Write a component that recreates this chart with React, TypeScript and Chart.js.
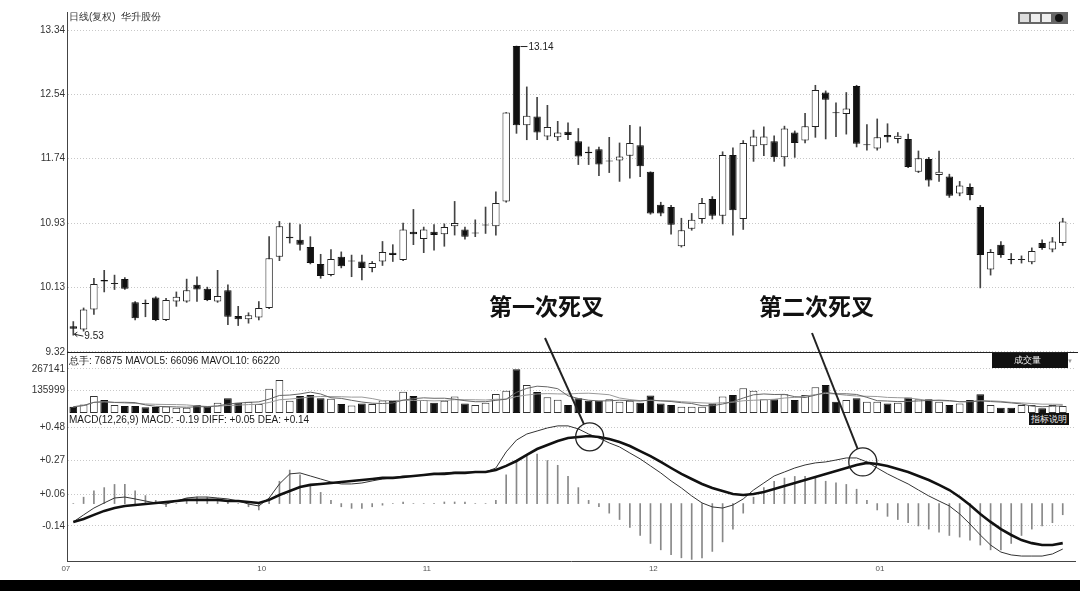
import React, { useEffect, useRef } from "react";
import { Chart, registerables } from "chart.js";
Chart.register(...registerables);

const FONT = '"Liberation Sans", Arial, sans-serif';

// Daily candles (index 0..96)
const opens = [9.64,9.60,9.85,10.22,10.17,10.23,9.94,9.93,10.00,9.72,9.95,9.95,10.16,10.11,9.95,10.09,9.77,9.73,9.75,9.87,10.51,10.74,10.72,10.63,10.42,10.28,10.51,10.45,10.45,10.37,10.45,10.56,10.47,10.82,10.73,10.82,10.79,10.89,10.85,10.80,10.90,10.89,11.20,13.14,12.15,12.26,12.01,12.00,12.07,11.95,11.82,11.85,11.70,11.71,11.77,11.90,11.57,11.16,11.13,10.64,10.86,10.98,11.23,11.02,11.78,10.98,11.89,11.90,11.95,11.75,12.06,11.96,12.13,12.56,12.31,12.29,12.64,11.90,11.86,12.03,11.98,11.98,11.57,11.73,11.53,11.51,11.30,11.38,11.13,10.35,10.66,10.48,10.47,10.44,10.68,10.60,10.68];
const highs = [9.70,9.87,10.24,10.34,10.28,10.25,9.95,9.97,10.01,9.99,10.07,10.23,10.26,10.13,10.34,10.16,9.89,9.81,9.95,10.76,10.95,10.93,10.91,10.76,10.54,10.60,10.57,10.53,10.53,10.45,10.70,10.66,10.93,11.10,10.88,10.91,10.92,11.20,10.88,10.97,11.13,11.32,12.31,13.14,12.63,12.50,12.40,12.20,12.18,12.11,11.88,11.88,12.00,11.93,12.15,12.13,11.57,11.19,11.15,10.99,11.05,11.24,11.26,11.82,11.87,11.96,12.09,12.13,12.02,12.14,12.08,12.30,12.65,12.58,12.43,12.56,12.65,12.16,12.23,12.17,12.06,12.04,11.83,11.75,11.83,11.54,11.45,11.42,11.15,10.60,10.70,10.55,10.52,10.62,10.72,10.75,10.99];
const lows = [9.53,9.58,9.79,10.07,10.10,10.10,9.72,9.76,9.71,9.71,9.89,9.94,9.95,9.96,9.94,9.66,9.65,9.68,9.72,9.86,10.46,10.68,10.59,10.42,10.24,10.27,10.37,10.26,10.22,10.32,10.40,10.45,10.46,10.66,10.56,10.59,10.64,10.78,10.73,10.76,10.80,10.78,11.19,12.05,11.97,11.97,11.97,11.96,11.97,11.66,11.66,11.52,11.56,11.45,11.49,11.51,11.04,11.02,10.79,10.63,10.84,10.93,10.98,10.92,10.78,10.85,11.70,11.77,11.70,11.64,11.75,11.93,12.00,11.98,12.01,12.04,11.88,11.84,11.84,11.94,11.93,11.62,11.56,11.39,11.45,11.25,11.27,11.22,10.12,10.28,10.50,10.42,10.43,10.42,10.60,10.57,10.65];
const closes = [9.61,9.85,10.17,10.20,10.18,10.11,9.74,9.92,9.72,9.97,10.01,10.09,10.10,9.97,10.02,9.76,9.73,9.78,9.87,10.49,10.89,10.76,10.66,10.43,10.27,10.48,10.39,10.45,10.37,10.43,10.57,10.53,10.85,10.79,10.85,10.78,10.88,10.93,10.76,10.81,10.91,11.18,12.31,12.15,12.27,12.06,12.13,12.06,12.03,11.76,11.80,11.66,11.70,11.76,11.93,11.64,11.05,11.05,10.91,10.84,10.97,11.18,11.02,11.78,11.09,11.93,12.01,12.01,11.75,12.11,11.93,12.14,12.59,12.47,12.30,12.36,11.92,11.90,12.00,12.00,12.02,11.63,11.74,11.46,11.57,11.27,11.40,11.28,10.53,10.57,10.53,10.47,10.47,10.58,10.62,10.70,10.95];

// Volume (总手)
const volumes = [38000,52000,103000,79000,48000,42000,42000,34000,36000,40000,32000,32000,48000,40000,62000,89000,62000,68000,55000,146000,199000,74000,103000,109000,89000,86000,54000,45000,58000,54000,75000,72000,129000,103000,79000,62000,74000,99000,58000,48000,62000,115000,135000,264000,169000,127000,95000,80000,48000,89000,74000,74000,83000,68000,74000,62000,105000,58000,48000,38000,38000,38000,58000,99000,109000,149000,135000,83000,83000,113000,79000,109000,155000,169000,68000,79000,89000,68000,68000,58000,62000,93000,83000,83000,68000,48000,58000,79000,113000,48000,32000,32000,48000,48000,28000,48000,42000];

// MACD(12,26,9)
const diffs = [-0.115,-0.071,-0.028,0.004,0.035,0.041,0.029,0.016,0.004,-0.003,0.016,0.035,0.041,0.041,0.035,0.029,0.016,-0.003,-0.015,0.035,0.123,0.186,0.192,0.173,0.154,0.135,0.123,0.123,0.129,0.142,0.154,0.161,0.173,0.173,0.179,0.186,0.192,0.198,0.198,0.198,0.198,0.223,0.324,0.398,0.436,0.455,0.474,0.487,0.487,0.468,0.436,0.411,0.380,0.355,0.317,0.280,0.236,0.192,0.142,0.098,0.048,0.004,-0.021,-0.028,-0.009,0.029,0.085,0.129,0.173,0.198,0.223,0.242,0.255,0.261,0.273,0.286,0.286,0.261,0.223,0.186,0.154,0.123,0.085,0.048,0.016,-0.015,-0.065,-0.128,-0.197,-0.260,-0.304,-0.322,-0.329,-0.329,-0.329,-0.316,-0.285];
const deas = [-0.115,-0.097,-0.071,-0.046,-0.028,-0.015,-0.009,-0.003,0.004,0.010,0.016,0.023,0.023,0.023,0.023,0.016,0.016,0.010,0.004,0.023,0.054,0.079,0.104,0.117,0.123,0.129,0.135,0.142,0.148,0.154,0.161,0.161,0.167,0.173,0.179,0.186,0.186,0.192,0.192,0.198,0.198,0.211,0.236,0.267,0.305,0.342,0.367,0.392,0.411,0.417,0.424,0.417,0.405,0.386,0.361,0.329,0.298,0.261,0.223,0.186,0.154,0.123,0.098,0.079,0.060,0.054,0.060,0.073,0.092,0.110,0.129,0.148,0.167,0.186,0.204,0.223,0.242,0.255,0.248,0.236,0.217,0.198,0.173,0.148,0.117,0.085,0.041,-0.009,-0.065,-0.115,-0.160,-0.197,-0.229,-0.248,-0.260,-0.260,-0.248];
const macdHist = [0.00,0.04,0.08,0.10,0.12,0.12,0.08,0.05,0.02,-0.02,0.00,0.03,0.04,0.04,0.03,0.02,0.00,-0.02,-0.04,0.03,0.14,0.21,0.18,0.12,0.07,0.02,-0.02,-0.03,-0.03,-0.02,-0.01,0.00,0.01,0.00,0.00,0.00,0.01,0.01,0.01,0.00,0.00,0.02,0.18,0.26,0.30,0.31,0.27,0.24,0.17,0.10,0.02,-0.02,-0.06,-0.10,-0.15,-0.20,-0.25,-0.29,-0.32,-0.34,-0.35,-0.34,-0.30,-0.24,-0.16,-0.06,0.04,0.10,0.14,0.16,0.17,0.17,0.16,0.14,0.13,0.12,0.09,0.02,-0.04,-0.08,-0.10,-0.12,-0.14,-0.16,-0.18,-0.20,-0.21,-0.23,-0.26,-0.29,-0.29,-0.25,-0.20,-0.16,-0.14,-0.12,-0.07];

const monthStarts = [0, 19, 35, 57, 79];
const monthLabels = ["07", "10", "11", "12", "01"];
const priceTicks = [9.32, 10.13, 10.93, 11.74, 12.54, 13.34];
const volTicks = [135999, 267141];
const macdTicks = [-0.14, 0.06, 0.27, 0.48];

const crossings = [
  { label: "第一次死叉", index: 50.1, value: 0.418, textLeft: 489, lineFrom: [545, 338] },
  { label: "第二次死叉", index: 76.6, value: 0.261, textLeft: 759, lineFrom: [812, 333] },
];

const movingAvg = (arr: number[], n: number) =>
  arr.map((_, i) => {
    const s = arr.slice(Math.max(0, i - n + 1), i + 1);
    return s.reduce((a, b) => a + b, 0) / s.length;
  });

export default function App() {
  const ref = useRef<HTMLCanvasElement>(null);

  useEffect(() => {
    const idx = opens.map((_, i) => i);
    const up = idx.map((i) => closes[i] >= opens[i]);
    const ma5 = movingAvg(volumes, 5);
    const ma10 = movingAvg(volumes, 10);

    const tickFont = { family: FONT, size: 10 };
    const gridOpts = { color: "#c8c8c8", lineWidth: 1, drawTicks: false };
    const borderOpts = { color: "#444", width: 1, dash: [1, 2] };

    const overlay = {
      id: "overlay",
      afterDatasetsDraw(chart: any) {
        const { ctx, chartArea, scales } = chart;
        const x = scales.x, yP = scales.yPrice, yM = scales.yMacd;
        ctx.save();
        // panel separator
        ctx.strokeStyle = "#222";
        ctx.lineWidth = 1;
        const sy = Math.round(yP.bottom) + 0.5;
        ctx.beginPath();
        ctx.moveTo(chartArea.left, sy);
        ctx.lineTo(chart.width - 2, sy);
        ctx.stroke();

        // high / low markers
        const hiIdx = highs.indexOf(Math.max(...highs));
        const loIdx = lows.indexOf(Math.min(...lows));
        ctx.font = "10px " + FONT;
        ctx.fillStyle = "#222";
        ctx.textAlign = "left";
        ctx.textBaseline = "middle";
        const hx = x.getPixelForValue(hiIdx), hy = yP.getPixelForValue(highs[hiIdx]);
        ctx.beginPath();
        ctx.moveTo(hx + 4, hy + 0.5);
        ctx.lineTo(hx + 11, hy + 0.5);
        ctx.stroke();
        ctx.fillText(highs[hiIdx].toFixed(2), hx + 12, hy + 1);
        const lx = x.getPixelForValue(loIdx), ly = yP.getPixelForValue(lows[loIdx]);
        ctx.beginPath();
        ctx.moveTo(lx + 1, ly - 1);
        ctx.lineTo(lx + 10, ly + 1);
        ctx.moveTo(lx + 1, ly - 1);
        ctx.lineTo(lx + 4, ly - 3);
        ctx.moveTo(lx + 1, ly - 1);
        ctx.lineTo(lx + 4, ly + 1.5);
        ctx.stroke();
        ctx.fillText(lows[loIdx].toFixed(2), lx + 11, ly + 1.5);

        // death-cross annotations
        for (const a of crossings) {
          const cx = x.getPixelForValue(a.index), cy = yM.getPixelForValue(a.value);
          ctx.strokeStyle = "#222";
          ctx.lineWidth = 1.3;
          ctx.beginPath();
          ctx.arc(cx, cy, 14, 0, Math.PI * 2);
          ctx.stroke();
          const [fx, fy] = a.lineFrom;
          const d = Math.hypot(cx - fx, cy - fy);
          const ex = cx - ((cx - fx) / d) * 14, ey = cy - ((cy - fy) / d) * 14;
          ctx.lineWidth = 2;
          ctx.beginPath();
          ctx.moveTo(fx, fy);
          ctx.lineTo(ex, ey);
          ctx.stroke();
        }
        ctx.restore();
      },
    };

    const chart = new Chart(ref.current as HTMLCanvasElement, {
      type: "bar",
      data: {
        datasets: [
          {
            type: "bar",
            label: "wick",
            data: idx.map((i) => ({ x: i, y: [lows[i], highs[i]] })),
            yAxisID: "yPrice",
            backgroundColor: "#444",
            barThickness: 1,
            grouped: false,
            order: 5,
          } as any,
          {
            type: "bar",
            label: "body",
            data: idx.map((i) => ({ x: i, y: [opens[i], closes[i]] })),
            yAxisID: "yPrice",
            backgroundColor: (c: any) => (up[c.dataIndex] ? "#ffffff" : "#111111"),
            borderColor: (c: any) => (up[c.dataIndex] ? "#222222" : "#111111"),
            borderWidth: 1,
            borderSkipped: false,
            categoryPercentage: 1,
            barPercentage: 0.72,
            minBarLength: 1,
            grouped: false,
            order: 4,
          } as any,
          {
            type: "bar",
            label: "volume",
            data: idx.map((i) => ({ x: i, y: volumes[i] })),
            yAxisID: "yVol",
            backgroundColor: (c: any) => (up[c.dataIndex] ? "#ffffff" : "#111111"),
            borderColor: (c: any) => (up[c.dataIndex] ? "#333333" : "#111111"),
            borderWidth: 1,
            borderSkipped: false,
            categoryPercentage: 1,
            barPercentage: 0.75,
            grouped: false,
            order: 4,
          } as any,
          {
            type: "line",
            label: "MAVOL5",
            data: idx.map((i) => ({ x: i, y: ma5[i] })),
            yAxisID: "yVol",
            borderColor: "#666",
            borderWidth: 1,
            pointRadius: 0,
            order: 1,
          } as any,
          {
            type: "line",
            label: "MAVOL10",
            data: idx.map((i) => ({ x: i, y: ma10[i] })),
            yAxisID: "yVol",
            borderColor: "#999",
            borderWidth: 1,
            pointRadius: 0,
            order: 1,
          } as any,
          {
            type: "bar",
            label: "MACD",
            data: idx.map((i) => ({ x: i, y: macdHist[i] })),
            yAxisID: "yMacd",
            backgroundColor: "#888",
            barThickness: 1,
            grouped: false,
            order: 3,
          } as any,
          {
            type: "line",
            label: "DIFF",
            data: idx.map((i) => ({ x: i, y: diffs[i] })),
            yAxisID: "yMacd",
            borderColor: "#333",
            borderWidth: 1,
            pointRadius: 0,
            order: 1,
          } as any,
          {
            type: "line",
            label: "DEA",
            data: idx.map((i) => ({ x: i, y: deas[i] })),
            yAxisID: "yMacd",
            borderColor: "#111",
            borderWidth: 2.6,
            pointRadius: 0,
            order: 0,
          } as any,
        ],
      },
      options: {
        responsive: false,
        animation: false,
        events: [],
        layout: { padding: { top: 12, right: 5, left: 0, bottom: 0 } },
        plugins: { legend: { display: false }, tooltip: { enabled: false } },
        scales: {
          x: {
            type: "linear",
            position: "bottom",
            min: -0.611,
            max: 97.19,
            offset: false,
            grid: { display: false, drawTicks: false },
            border: { display: true, color: "#444", width: 1 },
            ticks: {
              autoSkip: false,
              maxRotation: 0,
              align: "end",
              labelOffset: -3,
              padding: 3,
              font: { family: FONT, size: 8 },
              color: "#555",
              callback: (_v: any, i: number) => monthLabels[i],
            },
            afterBuildTicks: (s: any) => {
              s.ticks = monthStarts.map((v) => ({ value: v }));
            },
            afterFit: (s: any) => {
              s.height = 19;
            },
          },
          yMacd: {
            type: "linear",
            position: "left",
            stack: "panels",
            stackWeight: 147,
            min: -0.36,
            max: 0.5615,
            grid: gridOpts,
            border: borderOpts,
            ticks: {
              font: tickFont,
              color: "#333",
              padding: 2,
              callback: (v: any) => (Number(v) >= 0 ? "+" : "") + Number(v).toFixed(2),
            },
            afterBuildTicks: (s: any) => {
              s.ticks = macdTicks.map((v) => ({ value: v }));
            },
            afterFit: (s: any) => {
              s.width = 67;
            },
          },
          yVol: {
            type: "linear",
            position: "left",
            stack: "panels",
            stackWeight: 62,
            min: -6043,
            max: 368600,
            grid: gridOpts,
            border: borderOpts,
            ticks: {
              font: tickFont,
              color: "#333",
              padding: 2,
              callback: (v: any) => String(Math.round(Number(v))),
            },
            afterBuildTicks: (s: any) => {
              s.ticks = volTicks.map((v) => ({ value: v }));
            },
            afterFit: (s: any) => {
              s.width = 67;
            },
          },
          yPrice: {
            type: "linear",
            position: "left",
            stack: "panels",
            stackWeight: 340,
            min: 9.32,
            max: 13.565,
            grid: gridOpts,
            border: borderOpts,
            ticks: {
              font: tickFont,
              color: "#333",
              padding: 2,
              callback: (v: any) => Number(v).toFixed(2),
            },
            afterBuildTicks: (s: any) => {
              s.ticks = priceTicks.map((v) => ({ value: v }));
            },
            afterFit: (s: any) => {
              s.width = 67;
            },
          },
        } as any,
      },
      plugins: [overlay],
    } as any);

    return () => chart.destroy();
  }, []);

  const small: React.CSSProperties = {
    position: "absolute",
    fontFamily: FONT,
    fontSize: 10,
    color: "#1a1a1a",
    whiteSpace: "nowrap",
    lineHeight: "12px",
  };

  return (
    <div
      style={{
        position: "absolute",
        left: 0,
        top: 0,
        width: 1080,
        height: 591,
        background: "#ffffff",
        overflow: "hidden",
      }}
    >
      <canvas
        ref={ref}
        width={1080}
        height={580}
        style={{ position: "absolute", left: 0, top: 0, width: 1080, height: 580 }}
      />
      <div style={{ ...small, left: 69, top: 11, color: "#333" }}>日线(复权)&nbsp;&nbsp;华升股份</div>
      <div
        style={{
          position: "absolute",
          left: 1018,
          top: 12,
          width: 50,
          height: 12,
          background: "#666",
          display: "flex",
          alignItems: "center",
          gap: 2,
          padding: "0 2px",
          boxSizing: "border-box",
        }}
      >
        <div style={{ width: 9, height: 8, background: "#ddd" }} />
        <div style={{ width: 9, height: 8, background: "#eee" }} />
        <div style={{ width: 9, height: 8, background: "#eee" }} />
        <div style={{ width: 8, height: 8, borderRadius: 4, background: "#111", marginLeft: 2 }} />
      </div>
      <div style={{ ...small, left: 69, top: 355 }}>总手: 76875 MAVOL5: 66096 MAVOL10: 66220</div>
      <div
        style={{
          position: "absolute",
          left: 992,
          top: 353,
          width: 76,
          height: 15,
          background: "#111",
          color: "#eee",
          fontFamily: FONT,
          fontSize: 9,
          lineHeight: "15px",
          paddingLeft: 22,
          boxSizing: "border-box",
          whiteSpace: "nowrap",
        }}
      >
        成交量<span style={{ fontSize: 6, color: "#999", marginLeft: 26 }}>▼</span>
      </div>
      <div style={{ ...small, left: 69, top: 414 }}>MACD(12,26,9) MACD: -0.19 DIFF: +0.05 DEA: +0.14</div>
      <div
        style={{
          position: "absolute",
          left: 1029,
          top: 413,
          width: 40,
          height: 12,
          background: "#111",
          color: "#eee",
          fontFamily: FONT,
          fontSize: 9,
          lineHeight: "12px",
          textAlign: "center",
          whiteSpace: "nowrap",
        }}
      >
        指标说明
      </div>
      {crossings.map((a) => (
        <div
          key={a.label}
          style={{
            position: "absolute",
            left: a.textLeft,
            top: 293,
            fontFamily: '"Noto Sans CJK SC", sans-serif',
            fontWeight: 700,
            fontSize: 23,
            lineHeight: "24px",
            color: "#111",
            whiteSpace: "nowrap",
          }}
        >
          {a.label}
        </div>
      ))}
      <div style={{ position: "absolute", left: 0, top: 580, width: 1080, height: 11, background: "#000" }} />
    </div>
  );
}
